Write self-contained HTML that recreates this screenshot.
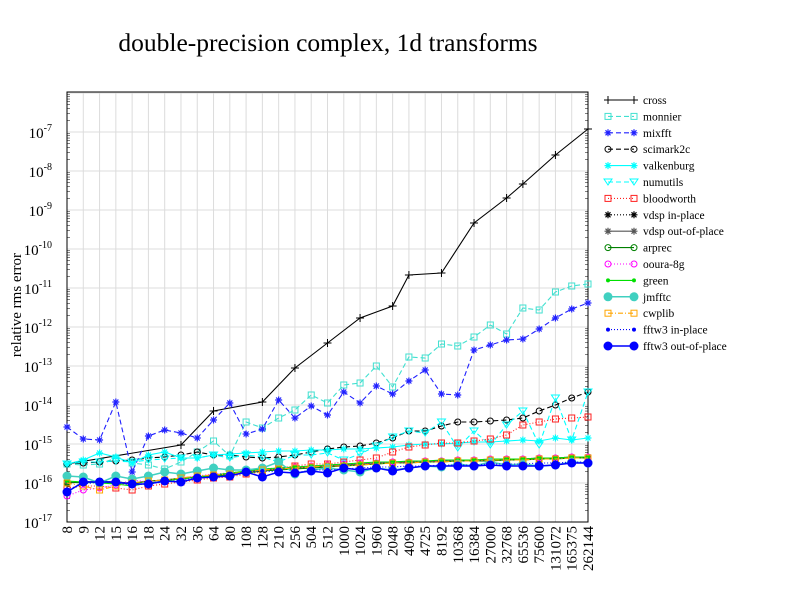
<!DOCTYPE html>
<html><head><meta charset="utf-8"><style>
html,body{margin:0;padding:0;background:#fff;}
svg{display:block;font-family:"Liberation Serif",serif;}
</style></head><body>
<svg id="s" width="792" height="612" xmlns="http://www.w3.org/2000/svg"></svg>
<script>
const S=document.getElementById('s');let h='';
const X0=67,X1=588,Y0=92,Y1=522;
const cats=[8,9,12,15,16,18,24,32,36,64,80,108,128,210,256,504,512,1000,1024,1960,2048,4096,4725,8192,10368,16384,27000,32768,65536,75600,131072,165375,262144];
const xi=i=>X0+i*(X1-X0)/32;
h+=`<text x="328" y="51" font-size="25.5" text-anchor="middle">double-precision complex, 1d transforms</text>`;
for(let i=0;i<33;i++)h+=`<line x1="${xi(i)}" y1="${Y0}" x2="${xi(i)}" y2="${Y1}" stroke="#dcdcdc"/>`;
for(let d=0;d<=11;d++){const y=Y1-d*39;h+=`<line x1="${X0}" y1="${y}" x2="${X1}" y2="${y}" stroke="#dcdcdc"/>`;
 if(d<=10)h+=`<text x="52" y="${y+6}" font-size="15" text-anchor="end">10<tspan dy="-7" font-size="10">${-17+d}</tspan></text>`;
 for(let k=2;k<10&&d<11;k++){const yy=y-Math.log10(k)*39;h+=`<line x1="${X0}" y1="${yy}" x2="${X0+3}" y2="${yy}" stroke="#000" stroke-width=".5"/><line x1="${X1}" y1="${yy}" x2="${X1-3}" y2="${yy}" stroke="#000" stroke-width=".5"/>`;}
}
h+=`<rect x="${X0}" y="${Y0}" width="${X1-X0}" height="${Y1-Y0}" fill="none" stroke="#000"/>`;
cats.forEach((c,i)=>{h+=`<text transform="translate(${xi(i)+5},526) rotate(-90)" font-size="15" text-anchor="end">${c}</text>`;});
h+=`<text transform="translate(21,305) rotate(-90)" font-size="15" text-anchor="middle">relative rms error</text>`;
function mk(t,x,y,c){switch(t){
case'plus':return`<path d="M${x-4} ${y}h8M${x} ${y-4}v8" stroke="${c}"/>`;
case'sq':return`<rect x="${x-3}" y="${y-3}" width="6" height="6" fill="none" stroke="${c}"/>`;
case'star':return`<path d="M${x-3.5} ${y}h7M${x} ${y-3.5}v7M${x-2.5} ${y-2.5}l5 5M${x-2.5} ${y+2.5}l5 -5" stroke="${c}" stroke-width="1.2"/>`;
case'circ':return`<circle cx="${x}" cy="${y}" r="3" fill="none" stroke="${c}"/>`;
case'tri':return`<path d="M${x-4} ${y-3}h8l-4 6z" fill="none" stroke="${c}"/>`;
case'dot':return`<circle cx="${x}" cy="${y}" r="2" fill="${c}"/>`;
case'big':return`<circle cx="${x}" cy="${y}" r="4.5" fill="${c}"/>`;
}return'';}
const series=[
['cross','#000','','plus',{0:464,7:445,9:411,12:402,14:368,16:343,18:318,20:306,21:275,23:273,25:223,27:198,28:184,30:155,32:129}],
['monnier','#40e0d0','5,3','sq',[464,465,464,458,463,465,469,462,452,441,456,422,428,418,410,395,403,385,383,366,387,357,358,344,346,337,325,334,308,310,292,286,284]],
['mixfft','#2020ff','5,3','star',[427,439,440,402,472,436,430,433,438,420,403,434,429,400,418,406,415,392,403,386,394,381,370,394,395,350,345,340,339,329,318,309,303]],
['scimark2c','#000','5,3','circ',[464,463,462,461,460,458,457,455,452,455,455,457,458,457,455,452,449,447,446,443,438,431,431,426,422,422,421,420,418,411,405,398,392]],
['valkenburg','#00ffff','','star',[464,460,453,457,463,455,452,458,458,455,454,453,452,451,451,450,450,449,449,448,447,445,444,444,443,442,442,441,440,441,438,440,438]],
['numutils','#00ffff','5,3','tri',[464,462,462,461,462,460,459,458,458,455,458,455,457,462,455,455,453,460,454,446,437,431,433,422,448,431,445,425,411,445,398,440,392]],
['bloodworth','#ff2020','1,2','sq',[488,486,486,488,490,486,484,482,480,478,477,474,472,468,466,464,464,462,460,458,452,447,445,443,443,441,439,435,425,422,419,418,417]],
['vdsp in-place','#000','1,2','star',[483,482,481,482,483,481,480,479,477,475,474,472,470,469,468,467,466,465,464,463,462,462,461,461,460,460,460,459,459,458,458,457,457]],
['vdsp out-of-place','#555','','star',[483,482,481,482,483,481,480,479,477,475,474,472,470,469,468,467,466,465,464,463,462,462,461,461,460,460,460,459,459,458,458,457,457]],
['arprec','#008000','','circ',[482,483,482,483,484,481,480,478,477,476,475,473,471,470,469,468,467,466,465,464,463,463,462,462,461,461,461,460,460,459,459,458,458]],
['ooura-8g','#ff00ff','1,2','circ',[496,490,488,485,480,482,480,478,476,474,473,471,469,468,467,466,465,464,463,463,462,462,461,461,460,460,459,459,459,458,458,457,457]],
['green','#00e000','','dot',[481,482,483,484,486,483,481,479,477,475,473,471,469,468,467,466,465,464,463,462,462,461,461,460,460,460,459,459,459,458,458,457,457]],
['jmfftc','#40d0c0','','big',[476,477,483,476,479,476,472,474,471,468,470,470,468,462,474,470,468,470,472,468,470,468,466,467,464,466,462,465,464,466,465,462,463]],
['cwplib','#ffa500','5,2,1,2','sq',[483,486,490,486,483,481,480,478,476,475,474,472,470,469,468,467,466,466,465,464,463,463,462,462,461,461,460,460,460,459,459,458,458]],
['fftw3 in-place','#0000ff','1,2','dot',[490,484,482,483,485,484,482,480,478,477,476,472,471,472,473,470,470,469,468,467,467,466,466,465,465,465,464,464,464,463,463,462,462]],
['fftw3 out-of-place','#0000ff','','big',[492,482,482,482,484,484,481,482,478,477,476,472,477,472,473,471,473,468,470,468,471,468,466,466,466,466,465,466,466,466,465,463,463]],
];
series.forEach((s,k)=>{const [n,c,da,m,d]=s;let pts=[];
 if(Array.isArray(d))d.forEach((y,i)=>pts.push([xi(i),y]));else for(const i in d)pts.push([xi(+i),d[i]]);
 const sw=(m=='big')?1.5:1.1;
 h+=`<polyline points="${pts.map(p=>p.join(',')).join(' ')}" fill="none" stroke="${c}" stroke-width="${sw}" ${da?`stroke-dasharray="${da}"`:''}/>`;
 pts.forEach(p=>h+=mk(m,p[0],p[1],c));
 const ly=100+k*16.4;
 h+=`<line x1="608" y1="${ly}" x2="634" y2="${ly}" stroke="${c}" stroke-width="${sw}" ${da?`stroke-dasharray="${da}"`:''}/>`+mk(m,608,ly,c)+mk(m,634,ly,c);
 h+=`<text x="643" y="${ly+4}" font-size="11.5">${n}</text>`;
});
S.innerHTML=h;
</script>
</body></html>
